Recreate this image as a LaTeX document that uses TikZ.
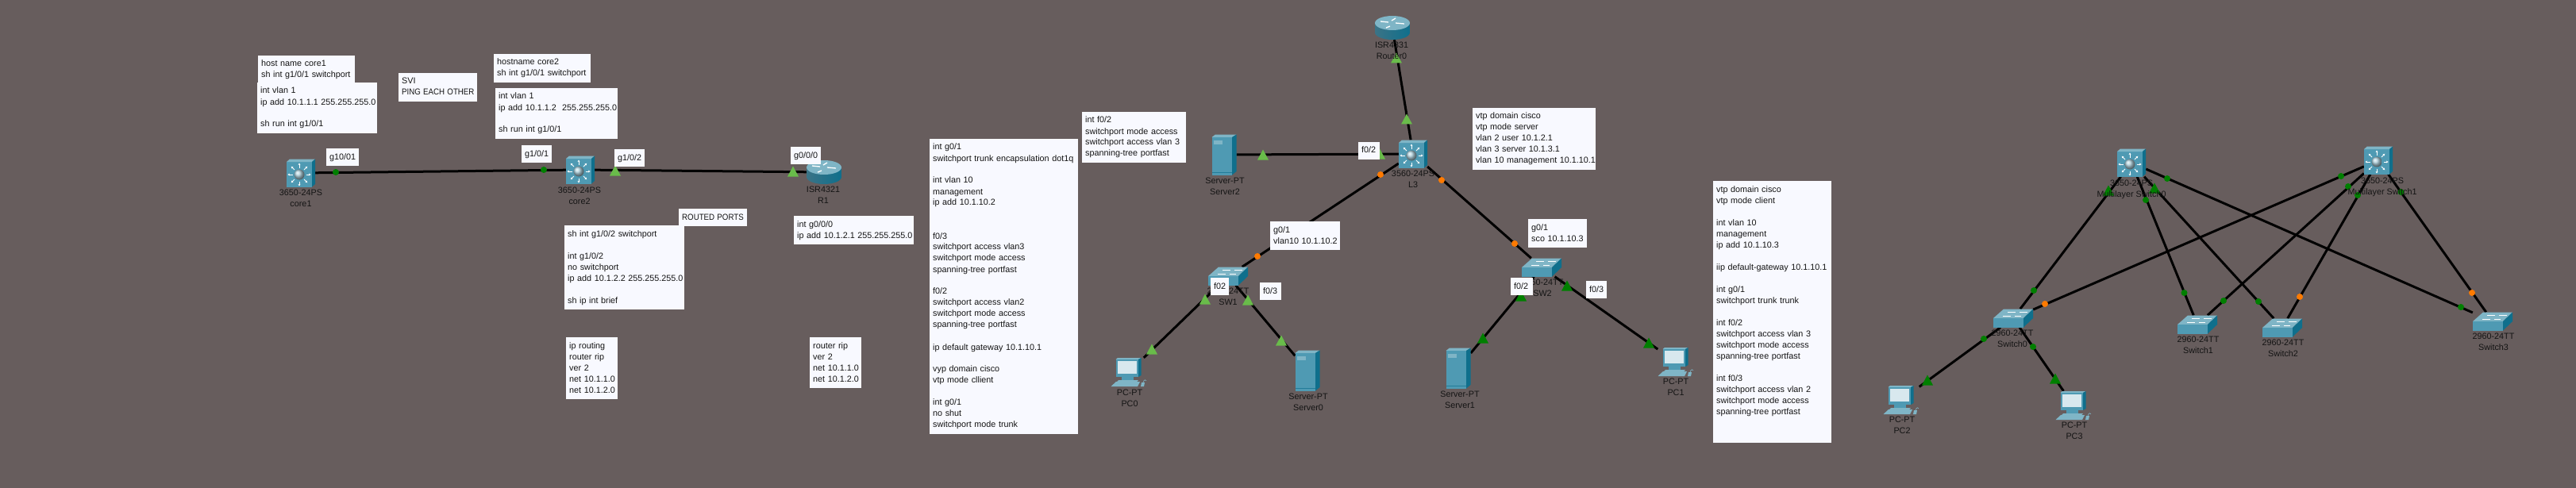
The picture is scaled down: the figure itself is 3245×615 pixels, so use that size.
\documentclass[tikz,border=0pt]{standalone}
\usepackage{fontspec}
\setmainfont{Liberation Sans}
\usetikzlibrary{arrows.meta}
\definecolor{bgc}{HTML}{675D5D}
\definecolor{boxc}{HTML}{F8F9FF}
\definecolor{txt}{HTML}{141414}
\definecolor{tfront}{HTML}{4F9AB3}
\definecolor{tside}{HTML}{0F6F8C}
\definecolor{ttop}{HTML}{7FB5C6}
\definecolor{tpale}{HTML}{D8E8EE}
\definecolor{lgreen}{HTML}{69BC4A}
\definecolor{dgreen}{HTML}{007F00}
\definecolor{ora}{HTML}{FF7A00}
\newcommand{\sq}[1]{\scalebox{.9}[1]{#1}}
\tikzset{
  fnt/.style={font=\fontsize{10.8}{14}\selectfont, text=txt},
  cfg/.style={fnt, fill=boxc, anchor=north west, inner xsep=0pt, inner ysep=4pt, align=left,
    execute at begin node={\leftskip=4pt\rightskip=-30pt plus 1fil\strut}, execute at end node={\strut}},
  lbl/.style={fnt, inner sep=0pt, align=center,
    execute at begin node={\strut}, execute at end node={\strut}},
  link/.style={line width=3pt, black},
  mlsnode/.style={inner sep=0pt, minimum width=36pt, minimum height=35pt},
  wsnode/.style={inner sep=0pt, minimum width=50pt, minimum height=23pt},
  rtnode/.style={inner sep=0pt, minimum width=44pt, minimum height=30pt},
  svnode/.style={inner sep=0pt, minimum width=31pt, minimum height=51pt},
  pcnode/.style={inner sep=0pt, minimum width=45pt, minimum height=36pt},
  wa/.style={white, line width=0.9pt, -{Stealth[length=2.6pt,width=3pt]}},
  mls/.pic={
    \fill[tfront] (-18,-14) rectangle (14,17.5);
    \fill[ttop] (-18,-14) -- (-14,-17.5) -- (18,-17.5) -- (14,-14) -- cycle;
    \fill[tside] (14,-14) -- (18,-17.5) -- (18,14) -- (14,17.5) -- cycle;
    \foreach \a in {0,45,...,315} \draw[wa] ([shift={(-2,2)}]\a:8.5) -- ([shift={(-2,2)}]\a:14.5);
    \shade[ball color=tpale!70!tfront] (-2,2) circle[radius=6.5];
  },
  wsw/.pic={
    \fill[ttop] (-25,0) -- (-12,-11.5) -- (25,-11.5) -- (13,0) -- cycle;
    \fill[tfront] (-25,0) rectangle (13,11.5);
    \fill[tside] (13,0) -- (25,-11.5) -- (25,0) -- (13,11.5) -- cycle;
    \draw[white,line width=0.8pt] (-7,-8) -- (3,-8) (8,-8) -- (18,-8) (-13,-3) -- (-3,-3) (2,-3) -- (10,-3);
  },
  rtr/.pic={
    \shade[left color=tfront!75!black, middle color=white, right color=tside, shading angle=90]
      (-22,-6) -- (22,-6) -- (22,6) .. controls (22,11) and (12,15) .. (0,15) .. controls (-12,15) and (-22,11) .. (-22,6) -- cycle;
    \fill[ttop] (0,-6) ellipse[x radius=22, y radius=9];
    \draw[white,line width=1.3pt] (-15,-8) -- (-5,-7) (15,-5) -- (4,-6) (-3,-2) -- (-8,0) (4,-12) -- (-1,-9);
  },
  srv/.pic={
    \fill[ttop] (-15.5,-22) -- (-11,-25.5) -- (15.5,-25.5) -- (10,-22) -- cycle;
    \fill[tfront] (-15.5,-22) rectangle (10,25.5);
    \fill[tside] (10,-22) -- (15.5,-25.5) -- (15.5,21) -- (10,25.5) -- cycle;
    \fill[ttop] (-13,-18) rectangle (-2,-13);
    \draw[tside!70!tfront,line width=0.7pt] (-15.5,22) -- (10,22);
  },
  pct/.pic={
    \fill[ttop] (-16.5,-16) -- (-14,-18) -- (15.5,-18) -- (12,-16) -- cycle;
    \fill[tfront] (-16.5,-16) rectangle (12,6);
    \fill[tside] (12,-16) -- (15.5,-18) -- (15.5,4) -- (12,6) -- cycle;
    \fill[tpale] (-14,-14) rectangle (9.5,2);
    \fill[tfront] (-9,6) rectangle (6,10);
    \fill[ttop] (-13,10) -- (12,10) -- (10,12) -- (-15,12) -- cycle;
    \fill[ttop] (-16,12) -- (14,12) -- (11,18) -- (-22.5,18) -- cycle;
    \fill[ttop] (16,13) -- (20,13) -- (19,18) -- (15,18) -- cycle;
    \draw[ttop,line width=0.6pt] (18,13) .. controls (19,9) and (22,9) .. (22,11);
  }
}
\newcommand{\tria}[3]{\fill[#1] (#2,#3) ++(-7,6.5) -- ++(7,-13) -- ++(7,13) -- cycle;}
\newcommand{\dotl}[3]{\fill[#1] (#2,#3) circle[radius=4];}
\begin{document}
\begin{tikzpicture}[x=1pt,y=-1pt]
\useasboundingbox (0,0) rectangle (3245,615);
\fill[bgc] (0,0) rectangle (3245,615);
% device anchors
\node[mlsnode] (core1) at (379,218) {};
\node[mlsnode] (core2) at (731,214) {};
\node[rtnode] (R1) at (1038,217) {};
\node[rtnode] (Router0) at (1754,35) {};
\node[mlsnode] (L3) at (1780,194) {};
\node[svnode] (Server2) at (1542,195) {};
\node[wsnode] (SW1) at (1547,348) {};
\node[wsnode] (SW2) at (1942,337) {};
\node[pcnode] (PC0) at (1422,469) {};
\node[svnode] (Server0) at (1647,467) {};
\node[svnode] (Server1) at (1837,464) {};
\node[pcnode] (PC1) at (2111,456) {};
\node[mlsnode] (MS0) at (2685,205) {};
\node[mlsnode] (MS1) at (2996,202) {};
\node[wsnode] (S0) at (2536,401) {};
\node[wsnode] (S1) at (2768,409) {};
\node[wsnode] (S2) at (2875,413) {};
\node[wsnode] (S3) at (3140,405) {};
\node[pcnode] (PC2) at (2395,504) {};
\node[pcnode] (PC3) at (2612,511) {};
% links
\draw[link] (core1) -- (core2);
\draw[link] (core2) -- (R1);
\draw[link] (Router0) -- (L3);
\draw[link] (L3) -- (Server2);
\draw[link] (L3) -- (SW1);
\draw[link] (L3) -- (SW2);
\draw[link] (SW1) -- (PC0);
\draw[link] (SW1) -- (Server0);
\draw[link] (SW2) -- (Server1);
\draw[link] (SW2) -- (PC1);
\draw[link] (MS0) -- (S0);
\draw[link] (MS0) -- (S1);
\draw[link] (MS0) -- (S2);
\draw[link] (MS0) -- (S3);
\draw[link] (MS1) -- (S0);
\draw[link] (MS1) -- (S1);
\draw[link] (MS1) -- (S2);
\draw[link] (MS1) -- (S3);
\draw[link] (S0) -- (PC2);
\draw[link] (S0) -- (PC3);
% icons
\pic at (core1) {mls}; \pic at (core2) {mls}; \pic at (L3) {mls}; \pic at (MS0) {mls}; \pic at (MS1) {mls};
\pic at (R1) {rtr}; \pic at (Router0) {rtr};
\pic at (Server2) {srv}; \pic at (Server0) {srv}; \pic at (Server1) {srv};
\pic at (SW1) {wsw}; \pic at (SW2) {wsw}; \pic at (S0) {wsw}; \pic at (S1) {wsw}; \pic at (S2) {wsw}; \pic at (S3) {wsw};
\pic at (PC0) {pct}; \pic at (PC1) {pct}; \pic at (PC2) {pct}; \pic at (PC3) {pct};
% link lights
\dotl{dgreen}{423}{217} \dotl{dgreen}{685}{214}
\tria{lgreen}{775}{215} \tria{lgreen}{999}{216}
\tria{lgreen}{1759}{73} \tria{lgreen}{1772}{150}
\tria{lgreen}{1591}{195} \tria{lgreen}{1738}{194}
\dotl{ora}{1739}{220} \dotl{ora}{1816}{227}
\dotl{ora}{1584}{323} \dotl{ora}{1908}{307}
\tria{lgreen}{1518}{377} \tria{lgreen}{1572}{378} \tria{lgreen}{1451}{440} \tria{lgreen}{1614}{429}
\tria{dgreen}{1916}{373} \tria{dgreen}{1974}{360} \tria{dgreen}{1868}{426} \tria{dgreen}{2077}{432}
\foreach \x/\y in {2730/225,2703/252,2562/366,2751.5/369,2801/379,2845/380,3100/387,2949/222,2958/235,2970/246,3024.5/242,2499/427,2561/437} {\dotl{dgreen}{\x}{\y}}
\foreach \x/\y in {2576/383,2897/374,3114/369} {\dotl{ora}{\x}{\y}}
\tria{dgreen}{2656}{240} \tria{dgreen}{2714}{237} \tria{dgreen}{2428}{479} \tria{dgreen}{2589}{477}
% device labels
\node[lbl] (lcore1) at (379,252) {3650-24PS\\core1};
\node[lbl] (lcore2) at (730,249) {3650-24PS\\core2};
\node[lbl] (lR1) at (1037,248) {ISR4321\\R1};
\node[lbl] (lRouter0) at (1753,66) {ISR4331\\Router0};
\node[lbl] (lL3) at (1780,228) {3560-24PS\\L3};
\node[lbl] (lServer2) at (1543,237) {Server-PT\\Server2};
\node[lbl] (lSW1) at (1547,376) {2960-24TT\\SW1};
\node[lbl] (lSW2) at (1943,365) {2960-24TT\\SW2};
\node[lbl] (lPC0) at (1423,504) {PC-PT\\PC0};
\node[lbl] (lServer0) at (1648,509) {Server-PT\\Server0};
\node[lbl] (lServer1) at (1839,506) {Server-PT\\Server1};
\node[lbl] (lPC1) at (2111,490) {PC-PT\\PC1};
\node[lbl] (lMS0) at (2685,240) {3650-24PS\\Multilayer Switch0};
\node[lbl] (lMS1) at (3001,237) {3650-24PS\\Multilayer Switch1};
\node[lbl] (lS0) at (2535,429) {2960-24TT\\Switch0};
\node[lbl] (lS1) at (2769,437) {2960-24TT\\Switch1};
\node[lbl] (lS2) at (2876,441) {2960-24TT\\Switch2};
\node[lbl] (lS3) at (3141,433) {2960-24TT\\Switch3};
\node[lbl] (lPC2) at (2396,538) {PC-PT\\PC2};
\node[lbl] (lPC3) at (2613,545) {PC-PT\\PC3};
% config notes
\node[cfg,text width=122pt] (n1) at (325,70) {host name core1\\sh int g1/0/1 switchport};
\node[cfg,text width=151pt] (n2) at (324,104) {int vlan 1\\ip add 10.1.1.1 255.255.255.0\\\strut\\sh run int g1/0/1};
\node[cfg,text width=99pt] (n3) at (502,92) {SVI\\\sq{PING EACH OTHER}};
\node[cfg,text width=122pt] (n4) at (622,68) {hostname core2\\sh int g1/0/1 switchport};
\node[cfg,text width=154pt] (n5) at (624,111) {int vlan 1\\ip add 10.1.1.2\ \ 255.255.255.0\\\strut\\sh run int g1/0/1};
\node[cfg,text width=41pt] (p1) at (411,187) {g10/01};
\node[cfg,text width=38pt] (p2) at (657,183) {g1/0/1};
\node[cfg,text width=38pt] (p3) at (774,188) {g1/0/2};
\node[cfg,text width=38pt] (p4) at (996,185) {g0/0/0};
\node[cfg,text width=86pt] (n6) at (855,263) {\sq{ROUTED PORTS}};
\node[cfg,text width=151pt] (n7) at (711,284) {sh int g1/0/2 switchport\\\strut\\int g1/0/2\\no switchport\\ip add 10.1.2.2 255.255.255.0\\\strut\\sh ip int brief};
\node[cfg,text width=151pt] (n8) at (1000,272) {int g0/0/0\\ip add 10.1.2.1 255.255.255.0};
\node[cfg,text width=65pt] (n9) at (713,425) {ip routing\\router rip\\ver 2\\net 10.1.1.0\\net 10.1.2.0};
\node[cfg,text width=65pt] (n10) at (1020,425) {router rip\\ver 2\\net 10.1.1.0\\net 10.1.2.0};
\node[cfg,text width=187pt] (n11) at (1171,175) {int g0/1\\switchport trunk encapsulation dot1q\\\strut\\int vlan 10\\management\\ip add 10.1.10.2\\\strut\\\strut\\f0/3\\switchport access vlan3\\switchport mode access\\spanning-tree portfast\\\strut\\f0/2\\switchport access vlan2\\switchport mode access\\spanning-tree portfast\\\strut\\ip default gateway 10.1.10.1\\\strut\\vyp domain cisco\\vtp mode cllient\\\strut\\int g0/1\\no shut\\switchport mode trunk};
\node[cfg,text width=131pt] (n12) at (1363,141) {int f0/2\\switchport mode access\\switchport access vlan 3\\spanning-tree portfast};
\node[cfg,text width=155pt] (n13) at (1855,136) {vtp domain cisco\\vtp mode server\\vlan 2 user 10.1.2.1\\vlan 3 server 10.1.3.1\\vlan 10 management 10.1.10.1};
\node[cfg,text width=27pt] (p5) at (1711,179) {f0/2};
\node[cfg,text width=88pt] (n14) at (1600,279) {g0/1\\vlan10 10.1.10.2};
\node[cfg,text width=74pt] (n15) at (1925,276) {g0/1\\sco 10.1.10.3};
\node[cfg,text width=23pt] (p6) at (1525,350) {f02};
\node[cfg,text width=27pt] (p7) at (1587,356) {f0/3};
\node[cfg,text width=28pt] (p8) at (1903,350) {f0/2};
\node[cfg,text width=26pt] (p9) at (1998,354) {f0/3};
\node[cfg,text width=149pt] (n16) at (2158,228) {vtp domain cisco\\vtp mode client\\\strut\\int vlan 10\\management\\ip add 10.1.10.3\\\strut\\iip default-gateway 10.1.10.1\\\strut\\int g0/1\\switchport trunk trunk\\\strut\\int f0/2\\switchport access vlan 3\\switchport mode access\\spanning-tree portfast\\\strut\\int f0/3\\switchport access vlan 2\\switchport mode access\\spanning-tree portfast\\\strut\\\strut};
\end{tikzpicture}
\end{document}
